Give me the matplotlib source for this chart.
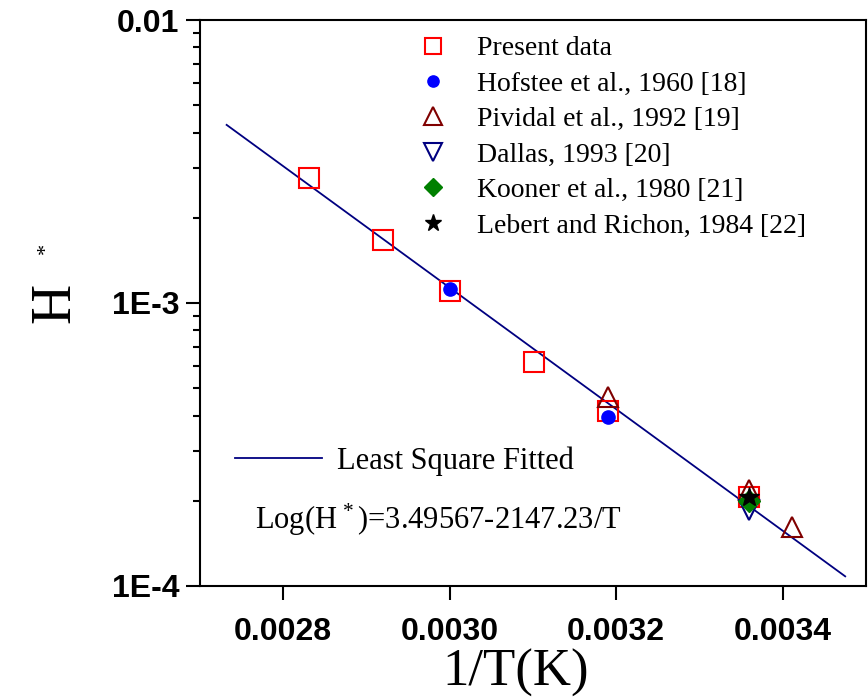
import numpy as np
import matplotlib.pyplot as plt
from matplotlib.lines import Line2D

plt.rcParams['mathtext.fontset'] = 'custom'
plt.rcParams['mathtext.rm'] = 'Liberation Serif'
plt.rcParams['mathtext.it'] = 'Liberation Serif'

# ----------------------------
# Data
# ----------------------------
present_x = [0.002831, 0.00292, 0.00300, 0.003101, 0.00319, 0.00336]
present_y = [2.77e-3, 1.67e-3, 1.10e-3, 6.18e-4, 4.14e-4, 2.07e-4]

hofstee_x = [0.00300, 0.00319]
hofstee_y = [1.12e-3, 3.94e-4]

pividal_x = [0.00319, 0.00336, 0.003411]
pividal_y = [4.65e-4, 2.19e-4, 1.62e-4]

dallas_x = [0.00336]
dallas_y = [1.86e-4]

kooner_x = [0.00336]
kooner_y = [1.99e-4]

lebert_x = [0.00336]
lebert_y = [2.07e-4]

# fitted line: Log(H*) = a - b/T
fit_a = 3.49567
fit_b = 2147.23
fit_x = [0.002732, 0.003475]

y_ticks = [1e-4, 1e-3, 1e-2]
y_ticklabels = ['1E-4', '1E-3', '0.01']
x_ticks = [0.0028, 0.0030, 0.0032, 0.0034]
x_ticklabels = ['0.0028', '0.0030', '0.0032', '0.0034']

# ----------------------------
# Plot
# ----------------------------
fig = plt.figure(figsize=(8.68, 7.0), dpi=100)
ax = fig.add_axes([0.2304, 0.1629, 0.7673, 0.8085])

fx = np.array(fit_x)
ax.plot(fx, 10 ** (fit_a - fit_b * fx), color='#000080', lw=1.3)

ax.plot(present_x, present_y, ls='none', marker='s', ms=14, mfc='none',
        mec='#ff0000', mew=1.5, label='Present data')
ax.plot(hofstee_x, hofstee_y, ls='none', marker='o', ms=9.5, mfc='#0000ff',
        mec='#0000ff', label='Hofstee et al., 1960 [18]')
ax.plot(pividal_x, pividal_y, ls='none', marker='^', ms=15, mfc='none',
        mec='#800000', mew=1.5, label='Pividal et al., 1992 [19]')
ax.plot(dallas_x, dallas_y, ls='none', marker='v', ms=15, mfc='none',
        mec='#000080', mew=1.5, label='Dallas, 1993 [20]')
ax.plot(kooner_x, kooner_y, ls='none', marker='D', ms=11, mfc='#008000',
        mec='#008000', label='Kooner et al., 1980 [21]')
ax.plot(lebert_x, lebert_y, ls='none', marker='*', ms=15, mfc='black',
        mec='black', label='Lebert and Richon, 1984 [22]')

ax.set_yscale('log')
ax.set_xlim(0.0027, 0.0035)
ax.set_ylim(1e-4, 1e-2)

ax.set_yticks(y_ticks)
ax.set_yticklabels(y_ticklabels)
ax.set_xticks(x_ticks)
ax.set_xticklabels(x_ticklabels)
ax.tick_params(axis='both', which='major', direction='out', length=10, width=1.5,
               top=False, right=False, labelsize=23)
ax.tick_params(axis='x', which='major', pad=12)
ax.tick_params(axis='y', which='major', pad=5)
ax.tick_params(axis='y', which='minor', direction='out', length=5, width=1.5,
               right=False)
ax.tick_params(axis='x', which='minor', bottom=False, top=False)
for lab in ax.get_xticklabels() + ax.get_yticklabels():
    lab.set_fontfamily('Liberation Sans')
    lab.set_fontweight('bold')

for s in ax.spines.values():
    s.set_linewidth(1.5)

ax.set_xlabel('1/T(K)', fontsize=38, family='Liberation Serif')
ax.xaxis.set_label_coords(0.474, -0.112)
ax.set_ylabel('H', fontsize=40, family='Liberation Serif', labelpad=22)
fig.text(46 / 868, 1 - 248 / 700, '*', fontsize=16, rotation=90,
         family='Liberation Serif', ha='center', va='center')

leg = ax.legend(loc='upper left', bbox_to_anchor=(0.308, 0.972), frameon=False,
                prop={'family': 'Liberation Serif', 'size': 20},
                markerscale=0.85, handlelength=2.0, handletextpad=0.6,
                labelspacing=0.36, borderpad=0, borderaxespad=0)
ax.add_artist(leg)

ax.legend(handles=[Line2D([], [], color='#000080', lw=1.3)],
          labels=['Least Square Fitted'], loc='center left',
          bbox_to_anchor=(0.0526, 0.221), frameon=False, handlelength=2.85,
          handletextpad=0.5, borderpad=0, borderaxespad=0,
          prop={'family': 'Liberation Serif', 'size': 22})

ax.text(0.0826, 0.1166, r'Log(H$^{\,*}$)=3.49567-2147.23/T', transform=ax.transAxes,
        fontsize=22, family='Liberation Serif', va='center')

fig.savefig('out.png', dpi=100)
